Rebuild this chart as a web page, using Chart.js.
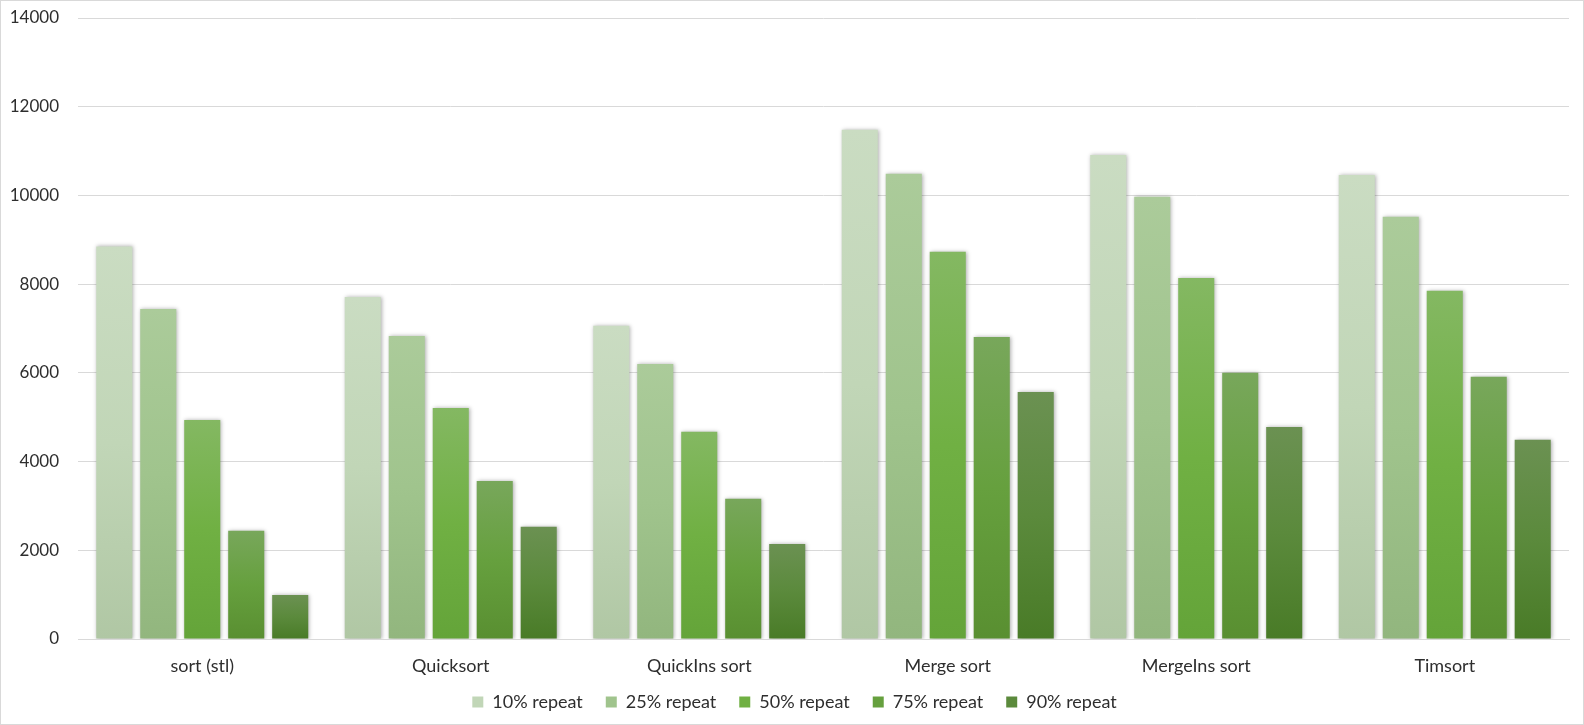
<!DOCTYPE html>
<html>
<head>
<meta charset="utf-8">
<script src="https://cdn.jsdelivr.net/npm/chart.js@4/dist/chart.umd.min.js"></script>
<style>
  html, body { margin: 0; padding: 0; background: #ffffff; }
  canvas { display: block; }
</style>
</head>
<body>
<canvas id="c" width="1584" height="725"></canvas>
<script>
const categories = ['sort (stl)', 'Quicksort', 'QuickIns sort', 'Merge sort', 'MergeIns sort', 'Timsort'];
const seriesNames = ['10% repeat', '25% repeat', '50% repeat', '75% repeat', '90% repeat'];
const repeat10 = [8850, 7710, 7060, 11480, 10910, 10460];
const repeat25 = [7440, 6830, 6200, 10490, 9970, 9520];
const repeat50 = [4940, 5210, 4670, 8730, 8140, 7850];
const repeat75 = [2440, 3560, 3160, 6810, 6000, 5910];
const repeat90 = [990, 2530, 2140, 5570, 4780, 4490];
const yTicks = [0, 2000, 4000, 6000, 8000, 10000, 12000, 14000];

const palettes = [
  ['#cadcc2', '#c1d6b7', '#b0c7a4'],
  ['#abcb9a', '#a0c48d', '#92b67e'],
  ['#84b862', '#70b043', '#64a439'],
  ['#78a75b', '#66a03e', '#598f31'],
  ['#6b9152', '#5b8a3c', '#497b27']
];

function gradientFill(cols) {
  return function (ctx) {
    const chart = ctx.chart;
    const area = chart.chartArea;
    if (!area || ctx.type !== 'data' || !chart.scales.y) return cols[1];
    const ys = chart.scales.y;
    const yt = ys.getPixelForValue(ctx.raw);
    const yb = ys.getPixelForValue(0);
    if (!isFinite(yt) || !isFinite(yb) || Math.abs(yb - yt) < 1) return cols[1];
    const g = chart.ctx.createLinearGradient(0, yt, 0, yb);
    g.addColorStop(0, cols[0]);
    g.addColorStop(0.5, cols[1]);
    g.addColorStop(1, cols[2]);
    return g;
  };
}

const values = [repeat10, repeat25, repeat50, repeat75, repeat90];
const datasets = seriesNames.map((name, i) => ({
  label: name,
  data: values[i],
  backgroundColor: gradientFill(palettes[i]),
  borderWidth: 0,
  categoryPercentage: 0.885,
  barPercentage: 0.82
}));

const shadowPlugin = {
  id: 'barShadow',
  beforeDatasetsDraw(chart) {
    const c = chart.ctx;
    c.save();
    c.shadowColor = 'rgba(0,0,0,0.32)';
    c.shadowBlur = 4;
    c.shadowOffsetX = 1;
    c.shadowOffsetY = 0;
  },
  afterDatasetsDraw(chart) {
    chart.ctx.restore();
  }
};

const borderPlugin = {
  id: 'outerBorder',
  afterDraw(chart) {
    const c = chart.ctx;
    c.save();
    c.strokeStyle = '#d9d9d9';
    c.lineWidth = 1;
    c.strokeRect(0.5, 0.5, chart.width - 1, chart.height - 1);
    c.restore();
  }
};

// nudge the legend row (it may overlap the empty lower part of the x-axis box)
const legendShift = {
  id: 'legendShift',
  afterLayout(chart) {
    const lg = chart.legend;
    if (lg) { lg.top -= 9; lg.bottom -= 9; lg.left += 10; lg.right += 10; }
  }
};

const FONT = { family: 'Lato, "Liberation Sans", sans-serif', size: 18 };
const TICKFONT = { family: 'Lato, "Liberation Sans", sans-serif', size: 17 };
const TEXT = '#2e2e2e';

new Chart(document.getElementById('c'), {
  type: 'bar',
  data: { labels: categories, datasets },
  plugins: [shadowPlugin, borderPlugin, legendShift],
  options: {
    responsive: false,
    animation: false,
    devicePixelRatio: 1,
    layout: { padding: { top: 18, left: 0, right: 15, bottom: 5 } },
    plugins: {
      tooltip: { enabled: false },
      legend: {
        position: 'bottom',
        maxHeight: 41,
        labels: {
          font: FONT,
          color: TEXT,
          boxWidth: 11,
          boxHeight: 11,
          padding: 23,
          generateLabels(chart) {
            const items = Chart.defaults.plugins.legend.labels.generateLabels(chart);
            items.forEach((it, i) => {
              it.fillStyle = palettes[i][1];
              it.strokeStyle = palettes[i][1];
              it.lineWidth = 0;
            });
            return items;
          }
        }
      }
    },
    scales: {
      x: {
        grid: { display: false, drawTicks: false },
        border: { display: true, color: '#d9d9d9', width: 1 },
        ticks: { font: FONT, color: TEXT, padding: 16, maxRotation: 0 },
        afterFit(s) { s.height = 40; }
      },
      y: {
        min: 0,
        max: 14000,
        afterBuildTicks(s) { s.ticks = yTicks.map(v => ({ value: v })); },
        grid: { color: '#d9d9d9', lineWidth: 1, drawTicks: false },
        border: { display: false },
        ticks: { font: TICKFONT, color: TEXT, padding: 19, callback: v => String(v) },
        afterFit(s) { s.width = 78; s.paddingTop = 9; s.paddingBottom = 9; }
      }
    }
  }
});
</script>
</body>
</html>
